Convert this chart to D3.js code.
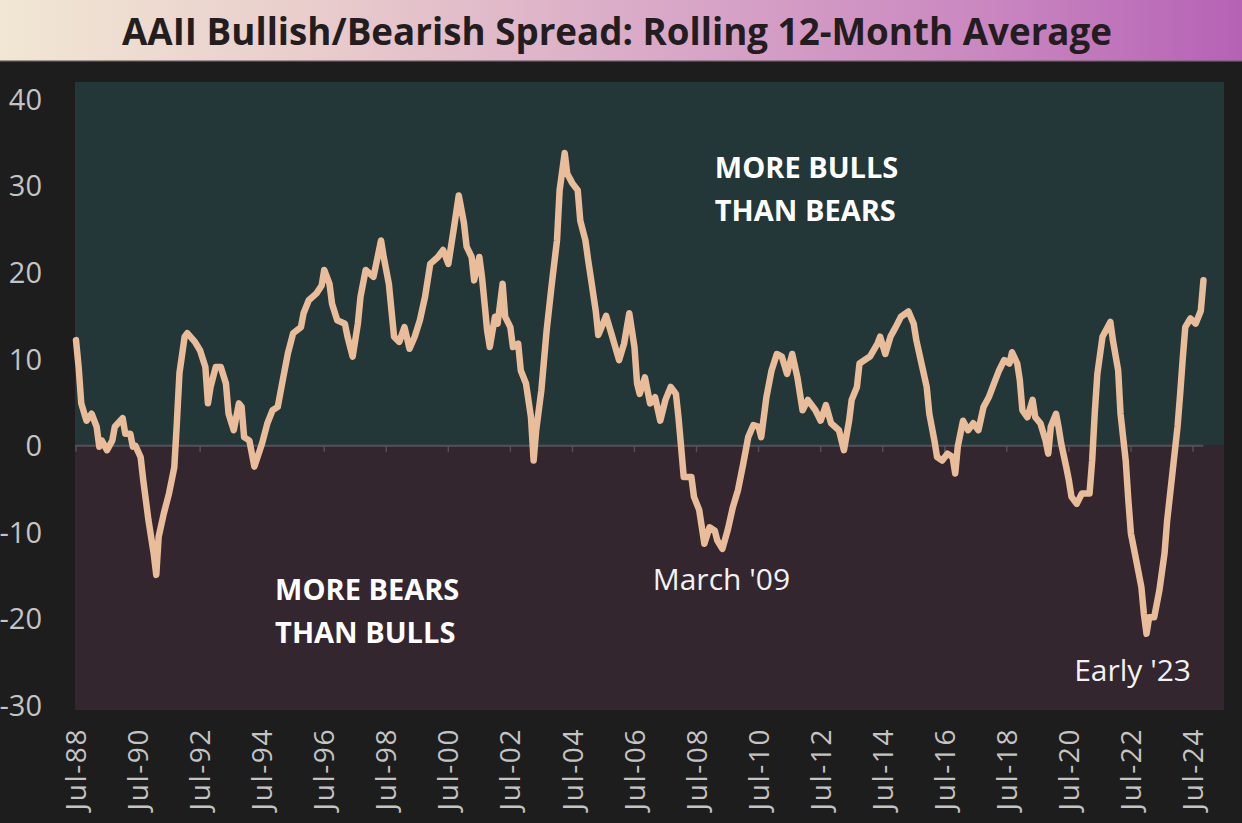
<!DOCTYPE html>
<html>
<head>
<meta charset="utf-8">
<script src="https://cdn.jsdelivr.net/npm/d3@7"></script>
<style>
  html, body { margin: 0; padding: 0; background: #1d1d1d; }
  svg { display: block; }
</style>
</head>
<body>
<svg id="chart" width="1242" height="823"></svg>
<script>
// ---------------- DATA ----------------
const title = "AAII Bullish/Bearish Spread: Rolling 12-Month Average";

const months = [
  "1988-07","1988-08","1988-09","1988-11","1989-01","1989-03","1989-04","1989-05","1989-07","1989-09",
  "1989-10","1990-01","1990-02","1990-04","1990-05","1990-06","1990-08","1990-09","1990-11","1991-01",
  "1991-02","1991-03","1991-05","1991-07","1991-09","1991-10","1991-11","1992-01","1992-02","1992-05",
  "1992-07","1992-09","1992-10","1992-11","1993-01","1993-03","1993-05","1993-06","1993-08","1993-10",
  "1993-11","1993-12","1994-02","1994-04","1994-07","1994-09","1994-11","1995-01","1995-03","1995-05",
  "1995-07","1995-10","1995-11","1996-01","1996-04","1996-06","1996-07","1996-09","1996-10","1996-12",
  "1997-03","1997-04","1997-06","1997-08","1997-09","1997-11","1998-02","1998-05","1998-06","1998-08",
  "1998-09","1998-10","1998-12","1999-02","1999-04","1999-06","1999-08","1999-10","1999-12","2000-03",
  "2000-05","2000-07","2000-09","2000-11","2001-01","2001-02","2001-04","2001-05","2001-07","2001-08",
  "2001-09","2001-10","2001-11","2002-01","2002-02","2002-04","2002-05","2002-07","2002-08","2002-10",
  "2002-11","2003-01","2003-03","2003-04","2003-05","2003-07","2003-09","2003-11","2004-01","2004-02",
  "2004-04","2004-05","2004-07","2004-09","2004-10","2004-12","2005-01","2005-02","2005-04","2005-05",
  "2005-06","2005-08","2005-10","2006-01","2006-03","2006-05","2006-07","2006-08","2006-09","2006-11",
  "2007-01","2007-03","2007-05","2007-07","2007-09","2007-11","2007-12","2008-01","2008-02","2008-05",
  "2008-06","2008-08","2008-10","2008-12","2009-02","2009-03","2009-05","2009-07","2009-09","2009-11",
  "2010-01","2010-03","2010-05","2010-07","2010-08","2010-10","2010-12","2011-02","2011-04","2011-06",
  "2011-08","2011-10","2011-12","2012-02","2012-05","2012-07","2012-09","2012-11","2013-02","2013-04",
  "2013-06","2013-07","2013-09","2013-10","2013-12","2014-02","2014-05","2014-06","2014-08","2014-10",
  "2014-12","2015-02","2015-05","2015-07","2015-08","2015-10","2015-12","2016-01","2016-03","2016-04",
  "2016-06","2016-08","2016-10","2016-11","2016-12","2017-02","2017-04","2017-06","2017-08","2017-10",
  "2017-12","2018-02","2018-04","2018-06","2018-08","2018-09","2018-11","2018-12","2019-01","2019-03",
  "2019-05","2019-06","2019-08","2019-10","2019-11","2019-12","2020-02","2020-03","2020-04","2020-06",
  "2020-07","2020-08","2020-10","2020-12","2021-03","2021-04","2021-05","2021-06","2021-08","2021-11",
  "2021-12","2022-02","2022-03","2022-05","2022-06","2022-07","2022-09","2022-11","2022-12","2023-01",
  "2023-02","2023-04","2023-06","2023-08","2023-09","2023-11","2024-01","2024-02","2024-03","2024-04",
  "2024-06","2024-08","2024-10","2024-11"
];

const spread = [
  12.2, 9.1, 4.9, 2.9, 3.7, 2.2, -0.1, 0.6, -0.5, 0.6,
  2.2, 3.2, 1.4, 1.4, -0.1, 0.0, -1.3, -4.0, -8.6, -12.4,
  -14.9, -10.5, -7.8, -5.5, -2.5, 2.6, 8.4, 12.6, 13.0, 12.0,
  11.0, 9.1, 4.9, 6.8, 9.1, 9.1, 7.2, 3.7, 1.8, 4.9,
  4.5, 1.0, 0.6, -2.4, 0.3, 2.6, 4.1, 4.5, 7.6, 10.7,
  13.0, 13.7, 15.3, 16.8, 17.6, 18.5, 20.3, 18.7, 16.4, 14.5,
  14.1, 12.6, 10.3, 14.1, 17.2, 20.3, 19.5, 23.7, 21.8, 18.7,
  15.6, 12.6, 12.0, 13.7, 11.2, 12.6, 14.5, 17.2, 21.0, 21.8,
  22.6, 21.0, 24.9, 28.9, 25.7, 23.0, 21.8, 19.1, 21.8, 19.5,
  16.4, 13.3, 11.4, 14.9, 14.1, 18.7, 14.9, 13.7, 11.4, 11.8,
  8.7, 7.2, 3.3, -1.7, 1.8, 6.4, 13.3, 18.7, 23.7, 29.5,
  33.8, 31.4, 30.3, 29.5, 26.0, 23.7, 21.5, 19.5, 15.6, 12.8,
  13.5, 15.0, 13.0, 9.9, 11.8, 15.3, 11.4, 7.2, 6.0, 7.9,
  4.9, 5.6, 2.9, 5.3, 6.8, 6.0, 3.3, -0.1, -3.6, -3.6,
  -5.9, -7.4, -11.3, -9.4, -9.8, -10.9, -11.9, -9.8, -7.1, -5.1,
  -2.1, 1.0, 2.4, 2.2, 1.0, 5.6, 8.7, 10.6, 10.3, 8.3,
  10.6, 7.9, 4.1, 5.3, 4.1, 2.9, 4.7, 2.6, 1.8, -0.5,
  2.9, 5.3, 6.8, 9.5, 9.9, 10.3, 11.8, 12.6, 10.6, 12.6,
  13.7, 14.9, 15.5, 14.1, 12.2, 9.5, 6.8, 3.7, 0.6, -1.3,
  -1.7, -0.9, -1.3, -3.2, -0.1, 2.9, 1.8, 2.6, 1.8, 4.5,
  5.6, 7.2, 8.7, 9.9, 9.5, 10.8, 9.5, 7.6, 4.1, 3.3,
  5.3, 3.3, 2.6, 0.6, -0.9, 2.2, 3.7, 2.2, 0.3, -2.5,
  -4.0, -5.9, -6.7, -5.5, -5.5, -1.7, 3.7, 8.3, 12.6, 14.3,
  12.2, 8.7, 3.7, -1.7, -6.3, -10.1, -13.2, -16.3, -19.4, -21.7,
  -19.8, -19.8, -16.7, -12.4, -8.6, -3.2, 2.2, 6.0, 9.9, 13.7,
  14.7, 14.1, 15.6, 19.1
];

const yTicks = [40, 30, 20, 10, 0, -10, -20, -30];
const xTickLabels = ["Jul-88","Jul-90","Jul-92","Jul-94","Jul-96","Jul-98","Jul-00","Jul-02","Jul-04",
  "Jul-06","Jul-08","Jul-10","Jul-12","Jul-14","Jul-16","Jul-18","Jul-20","Jul-22","Jul-24"];
const xTickDates = ["1988-07","1990-07","1992-07","1994-07","1996-07","1998-07","2000-07","2002-07","2004-07",
  "2006-07","2008-07","2010-07","2012-07","2014-07","2016-07","2018-07","2020-07","2022-07","2024-07"];

const annotations = [
  { lines: ["MORE BULLS", "THAN BEARS"], date: "2009-02", value: 30.9, bold: true },
  { lines: ["MORE BEARS", "THAN BULLS"], date: "1994-12", value: -17.8, bold: true },
  { lines: ["March '09"], date: "2007-02", value: -16.6, bold: false },
  { lines: ["Early '23"], date: "2020-09", value: -27.2, bold: false }
];

// ---------------- SETUP ----------------
const W = 1242, H = 823;
const plot = { left: 75, right: 1224, top: 82, bottom: 710 };
const parse = d3.timeParse("%Y-%m");
const data = months.map((m, i) => ({ date: parse(m), value: spread[i] }));

const x = d3.scaleTime()
  .domain([parse("1988-07"), parse("2024-07")])
  .range([76, 1193]);
const y = d3.scaleLinear()
  .domain([-30.5, 42])
  .range([plot.bottom, plot.top]);

const svg = d3.select("#chart");
const font = "'Open Sans', 'Noto Sans', sans-serif";

svg.append("rect").attr("width", W).attr("height", H).attr("fill", "#1d1d1d");

// Title band gradient
const defs = svg.append("defs");
const grad = defs.append("linearGradient").attr("id", "tg").attr("x1", "0%").attr("x2", "100%");
[["0%", "#f1e7d4"], ["25%", "#e9cdcc"], ["55%", "#d8a6c7"], ["80%", "#c986c0"], ["100%", "#b562b5"]]
  .forEach(([o, c]) => grad.append("stop").attr("offset", o).attr("stop-color", c));
svg.append("rect").attr("x", 0).attr("y", 0).attr("width", W).attr("height", 61).attr("fill", "url(#tg)");
svg.append("rect").attr("x", 0).attr("y", 60).attr("width", W).attr("height", 2).attr("fill", "#6e6068").attr("opacity", 0.6);

svg.append("text")
  .attr("x", 617).attr("y", 45)
  .attr("text-anchor", "middle")
  .attr("font-family", font).attr("font-weight", 700).attr("font-size", 38)
  .attr("textLength", 990).attr("lengthAdjust", "spacingAndGlyphs")
  .attr("fill", "#231d20")
  .text(title);

// Plot backgrounds (positive / negative zones)
svg.append("rect")
  .attr("x", plot.left).attr("y", plot.top)
  .attr("width", plot.right - plot.left).attr("height", y(0) - plot.top)
  .attr("fill", "#233638");
svg.append("rect")
  .attr("x", plot.left).attr("y", y(0))
  .attr("width", plot.right - plot.left).attr("height", plot.bottom - y(0))
  .attr("fill", "#33262f");

// Zero axis line with ticks
const lastDate = data[data.length - 1].date;
svg.append("line")
  .attr("x1", plot.left).attr("x2", x(lastDate))
  .attr("y1", y(0)).attr("y2", y(0))
  .attr("stroke", "#555158").attr("stroke-width", 2);
svg.append("g").selectAll("line")
  .data(xTickDates.map(parse))
  .join("line")
  .attr("x1", d => x(d)).attr("x2", d => x(d))
  .attr("y1", y(0)).attr("y2", y(0) + 6)
  .attr("stroke", "#555158").attr("stroke-width", 1.5);

// Y tick labels
svg.append("g").selectAll("text")
  .data(yTicks)
  .join("text")
  .attr("x", 42).attr("y", d => y(d))
  .attr("dy", "0.36em")
  .attr("text-anchor", "end")
  .attr("font-family", font).attr("font-size", 29)
  .attr("fill", "#c4c4c4")
  .text(d => String(d));

// X tick labels (rotated)
svg.append("g").selectAll("text")
  .data(xTickLabels)
  .join("text")
  .attr("transform", (d, i) => `translate(${x(parse(xTickDates[i]))},728) rotate(-90)`)
  .attr("dy", "0.36em")
  .attr("text-anchor", "end")
  .attr("font-family", font).attr("font-size", 28)
  .attr("letter-spacing", 1.6)
  .attr("fill", "#c4c4c4")
  .text(d => d);

// Line
const line = d3.line().x(d => x(d.date)).y(d => y(d.value)).curve(d3.curveLinear);
svg.append("path")
  .datum(data)
  .attr("d", line)
  .attr("fill", "none")
  .attr("stroke", "#e9bc9a")
  .attr("stroke-width", 6.5)
  .attr("stroke-linejoin", "round")
  .attr("stroke-linecap", "round");

// Annotations
annotations.forEach(a => {
  const t = svg.append("text")
    .attr("x", x(parse(a.date))).attr("y", y(a.value))
    .attr("font-family", font)
    .attr("font-weight", a.bold ? 700 : 400)
    .attr("font-size", a.bold ? 29 : 30)
    .attr("fill", a.bold ? "#ffffff" : "#f2f2f2");
  a.lines.forEach((l, i) => {
    t.append("tspan").attr("x", x(parse(a.date))).attr("dy", i === 0 ? 0 : 43).text(l);
  });
});
</script>
</body>
</html>
